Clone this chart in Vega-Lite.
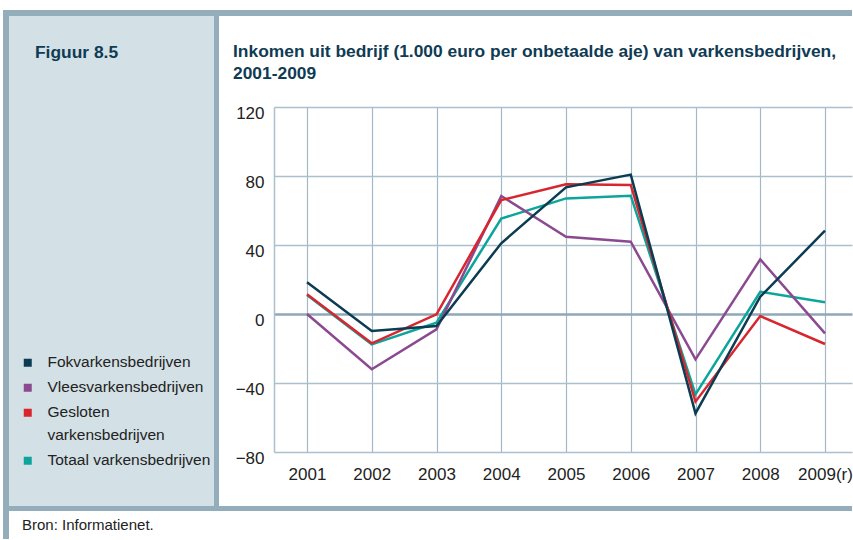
{
  "$schema": "https://vega.github.io/schema/vega-lite/v6.json",
  "background": "white",
  "padding": {"left": 3, "top": 10, "right": 0, "bottom": 0},
  "autosize": {"type": "pad"},
  "columns": 5,
  "spacing": 0,
  "bounds": "flush",
  "align": "each",
  "config": {
    "view": {"stroke": null},
    "font": "Liberation Sans, Arial, sans-serif",
    "legend": {
      "orient": "none",
      "legendX": 17,
      "legendY": 345,
      "padding": 0,
      "title": null,
      "direction": "vertical",
      "columns": 1,
      "symbolType": "square",
      "symbolSize": 64,
      "symbolStrokeWidth": 0,
      "labelFont": "Liberation Sans, Arial, sans-serif",
      "labelFontSize": 15.5,
      "labelColor": "#222222",
      "labelOffset": 12,
      "labelLimit": 300,
      "labelBaseline": "top",
      "rowPadding": 8
    }
  },
  "concat": [
    {"width": 6, "height": 6, "data": {"values": []}, "mark": "point", "encoding": {}, "view": {"fill": "#93adba"}},
    {"width": 205, "height": 6, "data": {"values": []}, "mark": "point", "encoding": {}, "view": {"fill": "#93adba"}},
    {"width": 5, "height": 6, "data": {"values": []}, "mark": "point", "encoding": {}, "view": {"fill": "#93adba"}},
    {"width": 55, "height": 6, "data": {"values": []}, "mark": "point", "encoding": {}, "view": {"fill": "#93adba"}},
    {"width": 578, "height": 6, "data": {"values": []}, "mark": "point", "encoding": {}, "view": {"fill": "#93adba"}},

    {"width": 6, "height": 91, "data": {"values": []}, "mark": "point", "encoding": {}, "view": {"fill": "#93adba"}},
    {
      "width": 205, "height": 91, "data": {"values": []}, "mark": "point", "encoding": {}, "view": {"fill": "#d3e0e5"},
      "title": {"text": "Figuur 8.5", "anchor": "start", "frame": "group", "orient": "top", "baseline": "bottom", "dx": 26, "offset": -63, "fontSize": 17.4, "fontWeight": "bold", "color": "#0f3b54", "font": "Liberation Sans, Arial, sans-serif"}
    },
    {"width": 5, "height": 91, "data": {"values": []}, "mark": "point", "encoding": {}, "view": {"fill": "#93adba"}},
    {"width": 55, "height": 91, "data": {"values": []}, "mark": "point", "encoding": {}},
    {"width": 578, "height": 91, "data": {"values": []}, "mark": "point", "encoding": {}},

    {"width": 6, "height": 345, "data": {"values": []}, "mark": "point", "encoding": {}, "view": {"fill": "#93adba"}},
    {"width": 205, "height": 345, "data": {"values": []}, "mark": "point", "encoding": {}, "view": {"fill": "#d3e0e5"}},
    {"width": 5, "height": 345, "data": {"values": []}, "mark": "point", "encoding": {}, "view": {"fill": "#93adba"}},
    {"width": 55, "height": 345, "data": {"values": []}, "mark": "point", "encoding": {}},
    {
      "width": 578,
      "height": 345,
      "title": {
        "text": ["Inkomen uit bedrijf (1.000 euro per onbetaalde aje) van varkensbedrijven,", "2001-2009"],
        "anchor": "start", "frame": "group", "orient": "top", "baseline": "bottom",
        "dx": -41, "offset": 4, "lineHeight": 22,
        "fontSize": 17.4, "fontWeight": "bold", "color": "#0f3b54",
        "font": "Liberation Sans, Arial, sans-serif"
      },
      "data": {
        "values": [
          {"year": 2001, "series": "Totaal varkensbedrijven", "value": 11},
          {"year": 2002, "series": "Totaal varkensbedrijven", "value": -17.6},
          {"year": 2003, "series": "Totaal varkensbedrijven", "value": -5},
          {"year": 2004, "series": "Totaal varkensbedrijven", "value": 55.3},
          {"year": 2005, "series": "Totaal varkensbedrijven", "value": 67},
          {"year": 2006, "series": "Totaal varkensbedrijven", "value": 68.6},
          {"year": 2007, "series": "Totaal varkensbedrijven", "value": -46.6},
          {"year": 2008, "series": "Totaal varkensbedrijven", "value": 12.9},
          {"year": 2009, "series": "Totaal varkensbedrijven", "value": 6.8},
          {"year": 2001, "series": "Vleesvarkensbedrijven", "value": 0},
          {"year": 2002, "series": "Vleesvarkensbedrijven", "value": -32},
          {"year": 2003, "series": "Vleesvarkensbedrijven", "value": -8.9},
          {"year": 2004, "series": "Vleesvarkensbedrijven", "value": 68.4},
          {"year": 2005, "series": "Vleesvarkensbedrijven", "value": 44.8},
          {"year": 2006, "series": "Vleesvarkensbedrijven", "value": 41.9},
          {"year": 2007, "series": "Vleesvarkensbedrijven", "value": -26.3},
          {"year": 2008, "series": "Vleesvarkensbedrijven", "value": 31.7},
          {"year": 2009, "series": "Vleesvarkensbedrijven", "value": -11.2},
          {"year": 2001, "series": "Gesloten varkensbedrijven", "value": 11.4},
          {"year": 2002, "series": "Gesloten varkensbedrijven", "value": -17},
          {"year": 2003, "series": "Gesloten varkensbedrijven", "value": -0.2},
          {"year": 2004, "series": "Gesloten varkensbedrijven", "value": 66},
          {"year": 2005, "series": "Gesloten varkensbedrijven", "value": 75.2},
          {"year": 2006, "series": "Gesloten varkensbedrijven", "value": 74.8},
          {"year": 2007, "series": "Gesloten varkensbedrijven", "value": -50.8},
          {"year": 2008, "series": "Gesloten varkensbedrijven", "value": -1.2},
          {"year": 2009, "series": "Gesloten varkensbedrijven", "value": -17.4},
          {"year": 2001, "series": "Fokvarkensbedrijven", "value": 18.4},
          {"year": 2002, "series": "Fokvarkensbedrijven", "value": -9.8},
          {"year": 2003, "series": "Fokvarkensbedrijven", "value": -7},
          {"year": 2004, "series": "Fokvarkensbedrijven", "value": 41},
          {"year": 2005, "series": "Fokvarkensbedrijven", "value": 73.4},
          {"year": 2006, "series": "Fokvarkensbedrijven", "value": 80.8},
          {"year": 2007, "series": "Fokvarkensbedrijven", "value": -57.6},
          {"year": 2008, "series": "Fokvarkensbedrijven", "value": 10},
          {"year": 2009, "series": "Fokvarkensbedrijven", "value": 48.3}
        ]
      },
      "mark": {"type": "line", "strokeWidth": 2.5},
      "encoding": {
        "x": {
          "field": "year", "type": "quantitative",
          "scale": {"domain": [2000.4903, 2009.417], "nice": false, "zero": false},
          "axis": {
            "title": null, "values": [2001, 2002, 2003, 2004, 2005, 2006, 2007, 2008, 2009],
            "format": "d", "labelExpr": "datum.value == 2009 ? '2009(r)' : datum.label",
            "grid": true, "gridColor": "#a3b8c6", "gridWidth": 1.2,
            "domain": false, "ticks": false, "labelPadding": 14,
            "labelFontSize": 17, "labelColor": "#222222", "labelFlush": false, "labelOverlap": false,
            "labelFont": "Liberation Sans, Arial, sans-serif"
          }
        },
        "y": {
          "field": "value", "type": "quantitative",
          "scale": {"domain": [-80, 120], "nice": false, "zero": false},
          "axis": {
            "title": null, "values": [-80, -40, 0, 40, 80, 120],
            "grid": true,
            "gridColor": {"condition": {"test": "datum.value === 0", "value": "#8fa7b6"}, "value": "#abbfcc"},
            "gridWidth": {"condition": {"test": "datum.value === 0", "value": 2.5}, "value": 1.5},
            "domain": true, "domainColor": "#abbfcc", "domainWidth": 1.5,
            "ticks": false, "labelPadding": 10, "labelOffset": 6,
            "labelFontSize": 17, "labelColor": "#222222",
            "labelFont": "Liberation Sans, Arial, sans-serif"
          }
        },
        "color": {
          "field": "series", "type": "nominal",
          "scale": {
            "domain": ["Fokvarkensbedrijven", "Vleesvarkensbedrijven", "Gesloten varkensbedrijven", "Totaal varkensbedrijven"],
            "range": ["#0b3c52", "#8b4a90", "#d8262f", "#0ca59c"]
          },
          "legend": {
            "labelExpr": "datum.label == 'Gesloten varkensbedrijven' ? ['Gesloten', 'varkensbedrijven'] : datum.label",
            "encode": {
              "symbols": {"update": {"fill": {"scale": "color", "field": "value"}, "stroke": {"value": "transparent"}, "opacity": {"value": 1}}},
              "labels": {"update": {"dy": {"value": -8}, "lineHeight": {"value": 23.5}}}
            }
          }
        }
      }
    },

    {"width": 6, "height": 54, "data": {"values": []}, "mark": "point", "encoding": {}, "view": {"fill": "#93adba"}},
    {"width": 205, "height": 54, "data": {"values": []}, "mark": "point", "encoding": {}, "view": {"fill": "#d3e0e5"}},
    {"width": 5, "height": 54, "data": {"values": []}, "mark": "point", "encoding": {}, "view": {"fill": "#93adba"}},
    {"width": 55, "height": 54, "data": {"values": []}, "mark": "point", "encoding": {}},
    {"width": 578, "height": 54, "data": {"values": []}, "mark": "point", "encoding": {}},

    {"width": 6, "height": 5, "data": {"values": []}, "mark": "point", "encoding": {}, "view": {"fill": "#93adba"}},
    {"width": 205, "height": 5, "data": {"values": []}, "mark": "point", "encoding": {}, "view": {"fill": "#93adba"}},
    {"width": 5, "height": 5, "data": {"values": []}, "mark": "point", "encoding": {}, "view": {"fill": "#93adba"}},
    {"width": 55, "height": 5, "data": {"values": []}, "mark": "point", "encoding": {}, "view": {"fill": "#93adba"}},
    {"width": 578, "height": 5, "data": {"values": []}, "mark": "point", "encoding": {}, "view": {"fill": "#93adba"}},

    {"width": 6, "height": 28, "data": {"values": []}, "mark": "point", "encoding": {}, "view": {"fill": "#93adba"}},
    {
      "width": 205, "height": 28, "data": {"values": []}, "mark": "point", "encoding": {},
      "title": {"text": "Bron: Informatienet.", "anchor": "start", "frame": "group", "orient": "top", "baseline": "bottom", "dx": 13, "offset": -37, "fontSize": 15, "fontWeight": "normal", "color": "#222222", "font": "Liberation Sans, Arial, sans-serif"}
    },
    {"width": 5, "height": 28, "data": {"values": []}, "mark": "point", "encoding": {}},
    {"width": 55, "height": 28, "data": {"values": []}, "mark": "point", "encoding": {}},
    {"width": 578, "height": 28, "data": {"values": []}, "mark": "point", "encoding": {}}
  ]
}
